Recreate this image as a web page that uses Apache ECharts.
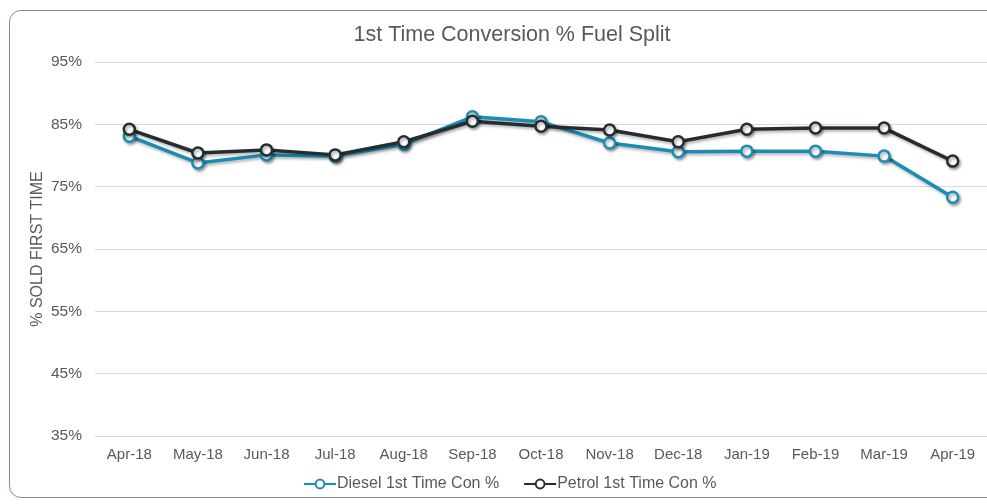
<!DOCTYPE html>
<html><head><meta charset="utf-8">
<script src="https://cdn.jsdelivr.net/npm/echarts@6/dist/echarts.min.js"></script>
<style>
html,body{margin:0;padding:0;background:#fff;}
#frame{position:absolute;left:9px;top:10px;width:1000px;height:488px;border:1.5px solid #7d8aa0;border-radius:12px;box-sizing:border-box;}
#c{position:absolute;left:0;top:0;width:987px;height:504px;}
</style></head>
<body><div id="frame"></div><div id="c"></div>
<script>
const categories = ['Apr-18','May-18','Jun-18','Jul-18','Aug-18','Sep-18','Oct-18','Nov-18','Dec-18','Jan-19','Feb-19','Mar-19','Apr-19'];
const diesel = [83.1, 78.8, 80.1, 79.9, 81.8, 86.2, 85.4, 82.0, 80.6, 80.7, 80.7, 79.9, 73.3];
const petrol = [84.2, 80.4, 80.9, 80.1, 82.2, 85.5, 84.7, 84.1, 82.2, 84.2, 84.4, 84.4, 79.1];
const seriesNames = ['Diesel 1st Time Con %', 'Petrol 1st Time Con %'];
const colors = ['#1b8db5', '#262d31'];

const chart = echarts.init(document.getElementById('c'));
const font = 'Liberation Sans, Arial, sans-serif';
function mk(name, data, color){
  return {
    name, type:'line', data, symbol:'circle', symbolSize:11, color,
    itemStyle:{color:'#fff', borderColor:color, borderWidth:2.5, shadowColor:'rgba(0,0,0,0.35)', shadowBlur:3, shadowOffsetX:1.5, shadowOffsetY:2},
    lineStyle:{color, width:3.5, shadowColor:'rgba(0,0,0,0.3)', shadowBlur:3, shadowOffsetX:1.5, shadowOffsetY:2},
    emphasis:{disabled:true}
  };
}
chart.setOption({
  animation:false,
  title:{text:'1st Time Conversion % Fuel Split', left:507, top:19, textAlign:'center',
    textStyle:{fontFamily:font, fontSize:21.5, fontWeight:'normal', color:'#595959'}},
  legend:{show:true, bottom:7, left:298, itemGap:24, itemWidth:32, itemHeight:11,
    textStyle:{fontFamily:font, fontSize:16, color:'#595959', padding:[0,0,0,-4]},
    data:seriesNames},
  grid:{left:95, right:0, top:62, bottom:68},
  xAxis:{type:'category', data:categories, boundaryGap:true,
    axisLine:{show:true, lineStyle:{color:'#d9d9d9'}}, axisTick:{show:false},
    axisLabel:{fontFamily:font, fontSize:15, color:'#595959', margin:11}},
  yAxis:{type:'value', min:35, max:95, interval:10,
    name:'% SOLD FIRST TIME', nameLocation:'middle', nameRotate:90, nameGap:49, nameMoveOverlap:false,
    nameTextStyle:{fontFamily:font, fontSize:16, color:'#595959'},
    axisLine:{show:false}, axisTick:{show:false},
    axisLabel:{fontFamily:font, fontSize:15.5, color:'#595959', margin:13, formatter:v=>v+'%'},
    splitLine:{lineStyle:{color:'#d9d9d9', width:1}}},
  series:[mk(seriesNames[0], diesel, colors[0]), mk(seriesNames[1], petrol, colors[1])]
});
</script></body></html>
